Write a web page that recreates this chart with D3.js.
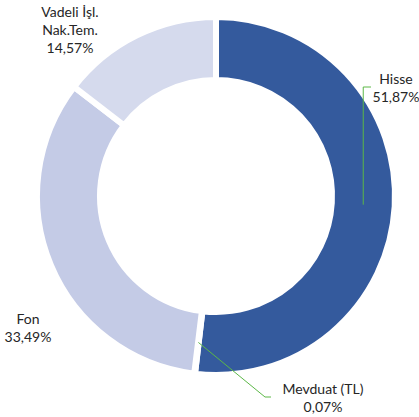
<!DOCTYPE html>
<html>
<head>
<meta charset="utf-8">
<script src="https://cdn.jsdelivr.net/npm/d3@7"></script>
<style>
  body { margin: 0; background: #fff; }
  text { font-family: Lato, "Open Sans", sans-serif; font-size: 14px; fill: #262626; }
</style>
</head>
<body>
<div id="chart"></div>
<script>
var categories = ['Hisse', 'Mevduat (TL)', 'Fon', 'Vadeli İşl.\nNak.Tem.'];
var values = [51.87, 0.07, 33.49, 14.57];
var colors = ['#345a9d', '#345a9d', '#c4cbe6', '#d5daed'];

// label anchor points (centre of first line) and leader lines
var labelPos = [[396, 79], [323, 389], [28, 319], [70, 12]];
var leaderEnd = [[363, 87, 371], [265, 397, 271], null, null];

var width = 419, height = 417;
var cx = 216, cy = 196;
var outerR = 179, innerR = 116;

var data = categories.map(function (c, i) {
  return { name: c, value: values[i], color: colors[i], idx: i };
});

var svg = d3.select('#chart')
  .append('svg')
  .attr('width', width)
  .attr('height', height);

var g = svg.append('g')
  .attr('transform', 'translate(' + cx + ',' + cy + ')');

var pie = d3.pie().sort(null).value(function (d) { return d.value; });
var arc = d3.arc().innerRadius(innerR).outerRadius(outerR);
var midArc = d3.arc().innerRadius((innerR + outerR) / 2).outerRadius((innerR + outerR) / 2);

var arcs = pie(data);

g.selectAll('path.slice')
  .data(arcs)
  .enter()
  .append('path')
  .attr('class', 'slice')
  .attr('d', arc)
  .attr('fill', function (d) { return d.data.color; })
  .attr('stroke', '#fff')
  .attr('stroke-width', 6);

// leader lines from slice centroid to the label
arcs.forEach(function (d, i) {
  var le = leaderEnd[i];
  if (!le) return;
  var c = midArc.centroid(d);
  var x0 = c[0] + cx, y0 = c[1] + cy;
  var pts = (i === 0)
    ? [[x0, y0], [x0, le[1]], [le[2], le[1]]]
    : [[x0, y0], [le[0], le[1]], [le[2], le[1]]];
  svg.append('path')
    .attr('d', d3.line()(pts))
    .attr('fill', 'none')
    .attr('stroke', '#5cb847')
    .attr('stroke-width', 1);
});

// labels
arcs.forEach(function (d, i) {
  var lines = d.data.name.split('\n');
  lines.push(d.data.value.toFixed(2).replace('.', ',') + '%');
  var t = svg.append('text')
    .attr('text-anchor', 'middle')
    .attr('x', labelPos[i][0])
    .attr('y', labelPos[i][1]);
  lines.forEach(function (l, j) {
    t.append('tspan')
      .attr('x', labelPos[i][0])
      .attr('dy', j === 0 ? '0.35em' : '18px')
      .text(l);
  });
});
</script>
</body>
</html>
